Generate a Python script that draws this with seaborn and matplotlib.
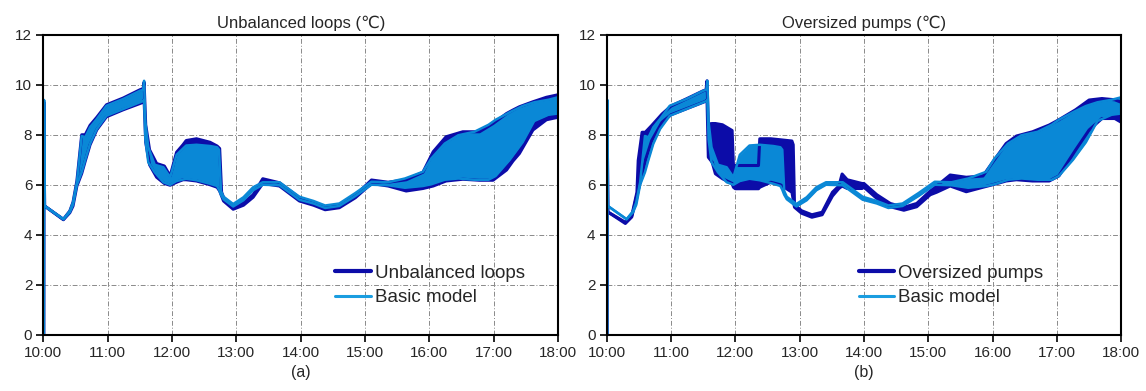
import numpy as np
import pandas as pd
import matplotlib
matplotlib.use("Agg")
import matplotlib.pyplot as plt
from matplotlib.lines import Line2D
import seaborn as sns

# ---------------- data (hours after midnight, band lower / upper in degC) -------------
basic_t = [10.006, 10.009, 10.018, 10.31, 10.41, 10.46, 10.52, 10.595, 10.65, 10.725,
           10.83, 10.98, 11.24, 11.50, 11.55, 11.565, 11.585, 11.63, 11.73, 11.865,
           11.97, 12.07, 12.22, 12.38, 12.59, 12.70, 12.73, 12.76, 12.80, 12.95,
           13.11, 13.26, 13.41, 13.67, 13.98, 14.20, 14.38, 14.60, 14.85, 15.10,
           15.36, 15.62, 15.90, 16.03, 16.24, 16.45, 16.70, 16.92, 17.03, 17.25,
           17.45, 17.63, 17.85, 18.00]
basic_lo = [0.00, 9.39, 5.15, 4.62, 4.90, 5.20, 6.00, 6.50, 7.00, 7.64,
            8.23, 8.76, 9.03, 9.30, 9.35, 9.40, 7.80, 6.90, 6.50, 6.10,
            6.00, 6.15, 6.24, 6.18, 6.04, 5.95, 5.80, 5.60, 5.42, 5.13,
            5.38, 5.78, 6.00, 5.98, 5.40, 5.25, 5.07, 5.15, 5.55, 6.00,
            5.98, 5.88, 5.95, 6.02, 6.20, 6.25, 6.20, 6.20, 6.35, 7.00,
            7.70, 8.55, 8.80, 8.85]
basic_hi = [0.00, 9.39, 5.15, 4.62, 4.95, 5.30, 6.10, 7.95, 7.90, 8.30,
            8.63, 9.16, 9.43, 9.76, 9.80, 10.16, 8.50, 7.50, 6.80, 6.70,
            6.30, 7.20, 7.57, 7.60, 7.55, 7.50, 7.40, 5.75, 5.52, 5.23,
            5.50, 5.90, 6.10, 6.10, 5.52, 5.35, 5.17, 5.25, 5.67, 6.12,
            6.10, 6.25, 6.52, 7.05, 7.65, 7.98, 8.12, 8.40, 8.60, 8.90,
            9.15, 9.30, 9.40, 9.50]

unbal_t = [10.004, 10.007, 10.018, 10.31, 10.41, 10.46, 10.52, 10.595, 10.65, 10.725,
           10.83, 10.98, 11.24, 11.50, 11.55, 11.565, 11.59, 11.65, 11.76, 11.88,
           11.97, 12.07, 12.17, 12.22, 12.38, 12.59, 12.70, 12.74, 12.77, 12.80,
           12.95, 13.11, 13.26, 13.41, 13.67, 13.98, 14.20, 14.38, 14.60, 14.85,
           15.10, 15.36, 15.64, 15.90, 16.06, 16.26, 16.52, 16.78, 16.99, 17.20,
           17.30, 17.40, 17.61, 17.82, 18.00]
unbal_lo = [0.00, 9.30, 5.15, 4.60, 4.88, 5.15, 5.95, 6.45, 6.95, 7.60,
            8.20, 8.72, 9.00, 9.25, 9.30, 9.40, 7.70, 6.80, 6.30, 6.05,
            5.98, 6.10, 6.20, 6.20, 6.15, 6.00, 5.90, 5.75, 5.55, 5.35,
            5.02, 5.18, 5.50, 6.05, 5.95, 5.35, 5.18, 5.00, 5.08, 5.48,
            6.05, 5.95, 5.75, 5.85, 5.95, 6.15, 6.22, 6.18, 6.18, 6.59,
            6.95, 7.25, 8.19, 8.60, 8.70]
unbal_hi = [0.00, 9.30, 5.15, 4.62, 4.95, 5.30, 6.15, 8.00, 8.00, 8.38,
            8.70, 9.20, 9.47, 9.80, 9.85, 10.10, 8.40, 7.40, 6.85, 6.75,
            6.35, 7.30, 7.60, 7.77, 7.84, 7.70, 7.55, 7.45, 5.70, 5.50,
            5.12, 5.28, 5.60, 6.24, 6.08, 5.48, 5.28, 5.10, 5.18, 5.58,
            6.19, 6.10, 6.20, 6.50, 7.32, 7.92, 8.12, 8.12, 8.45, 8.85,
            8.99, 9.12, 9.32, 9.50, 9.60]

overs_t = [10.004, 10.007, 10.018, 10.29, 10.39, 10.47, 10.49, 10.55, 10.60, 10.70,
           10.86, 11.00, 11.25, 11.50, 11.545, 11.56, 11.58, 11.64, 11.69, 11.80,
           11.95, 11.97, 12.00, 12.20, 12.36, 12.38, 12.55, 12.70, 12.88, 12.90,
           12.92, 13.03, 13.19, 13.35, 13.51, 13.61, 13.66, 13.74, 13.97, 14.00,
           14.20, 14.41, 14.62, 14.82, 15.03, 15.13, 15.34, 15.59, 15.85, 16.00,
           16.21, 16.37, 16.62, 16.88, 17.03, 17.29, 17.50, 17.70, 17.90, 18.00]
overs_lo = [0.00, 9.10, 4.91, 4.45, 4.71, 5.60, 5.78, 6.40, 6.97, 7.77,
            8.50, 8.80, 9.05, 9.30, 9.35, 9.40, 7.10, 6.90, 6.44, 6.24,
            6.05, 5.90, 5.84, 5.84, 5.84, 5.90, 6.10, 6.00, 5.70, 5.40,
            5.10, 4.86, 4.70, 4.80, 5.55, 5.85, 5.95, 5.85, 5.85, 5.90,
            5.45, 5.12, 4.98, 5.12, 5.60, 5.70, 5.95, 5.72, 5.90, 6.00,
            6.15, 6.20, 6.15, 6.15, 6.35, 7.39, 8.19, 8.65, 8.65, 8.50]
overs_hi = [0.00, 9.10, 4.91, 4.50, 4.76, 5.70, 6.97, 8.10, 8.10, 8.37,
            8.83, 9.15, 9.45, 9.76, 9.80, 10.16, 8.43, 8.45, 8.45, 8.40,
            8.17, 6.80, 6.77, 6.77, 6.77, 7.84, 7.84, 7.80, 7.75, 7.60,
            5.20, 4.96, 4.80, 4.90, 5.70, 5.95, 6.43, 6.20, 6.05, 6.05,
            5.60, 5.25, 5.10, 5.25, 5.75, 5.95, 6.39, 6.30, 6.35, 6.90,
            7.65, 7.95, 8.12, 8.39, 8.60, 9.00, 9.39, 9.45, 9.40, 9.30]

hour_ticks = [10, 11, 12, 13, 14, 15, 16, 17, 18]
hour_labels = ["10:00", "11:00", "12:00", "13:00", "14:00", "15:00", "16:00", "17:00", "18:00"]
y_ticks = [0, 2, 4, 6, 8, 10, 12]

panels = [
    {"title": "Unbalanced loops (℃)", "tag": "(a)", "name": "Unbalanced loops",
     "t": unbal_t, "lo": unbal_lo, "hi": unbal_hi, "lx": 0.565},
    {"title": "Oversized pumps (℃)", "tag": "(b)", "name": "Oversized pumps",
     "t": overs_t, "lo": overs_lo, "hi": overs_hi, "lx": 0.487},
]

DARK = "#0c0ca8"
LIGHT = "#0a88d6"
LEG_LIGHT = "#1a9de0"

sns.set_theme(style="white")
plt.rcParams["font.family"] = ["Liberation Sans", "DejaVu Sans"]

fig = plt.figure(figsize=(11.46, 3.91), dpi=100)
fig.patch.set_facecolor("white")
axes = [fig.add_axes([0.0379, 0.144, 0.449, 0.767]),
        fig.add_axes([0.5294, 0.144, 0.449, 0.767])]


def draw_band(ax, t, lo, hi, color, lw):
    df = pd.DataFrame({"t": t, "lo": lo, "hi": hi})
    ax.fill_between(df["t"], df["lo"], df["hi"], color=color, lw=0)
    sns.lineplot(data=df, x="t", y="lo", ax=ax, color=color, lw=lw, estimator=None, sort=False)
    sns.lineplot(data=df, x="t", y="hi", ax=ax, color=color, lw=lw, estimator=None, sort=False)


for ax, p in zip(axes, panels):
    ax.set_facecolor("white")
    draw_band(ax, p["t"], p["lo"], p["hi"], DARK, 2.2)
    draw_band(ax, basic_t, basic_lo, basic_hi, LIGHT, 1.8)

    ax.set_xlim(10, 18)
    ax.set_ylim(0, 12)
    ax.set_xticks(hour_ticks)
    ax.set_xticklabels(hour_labels)
    ax.set_yticks(y_ticks)
    ax.set_xlabel("")
    ax.set_ylabel("")
    ax.grid(True, color="#8a8a8a", lw=0.7, linestyle=(0, (5, 2, 1, 2)))
    ax.set_axisbelow(True)
    for s in ax.spines.values():
        s.set_color("black")
        s.set_linewidth(1.5)
    ax.tick_params(axis="both", direction="out", length=5, width=1.2, color="black",
                   labelsize=11, pad=3, bottom=True, left=True)
    ax.set_title(p["title"], fontsize=12, pad=5)
    ax.text(0.5, -0.125, p["tag"], transform=ax.transAxes, ha="center", va="center", fontsize=11.5)

    handles = [Line2D([], [], color=DARK, lw=3), Line2D([], [], color=LEG_LIGHT, lw=2.2)]
    ax.legend(handles, [p["name"], "Basic model"], loc="lower left",
              bbox_to_anchor=(p["lx"] - 0.012, 0.07), frameon=False, fontsize=13.5,
              handlelength=1.9, handletextpad=0.2, labelspacing=0.38, borderaxespad=0)

fig.savefig("out.png", dpi=100, facecolor="white")
